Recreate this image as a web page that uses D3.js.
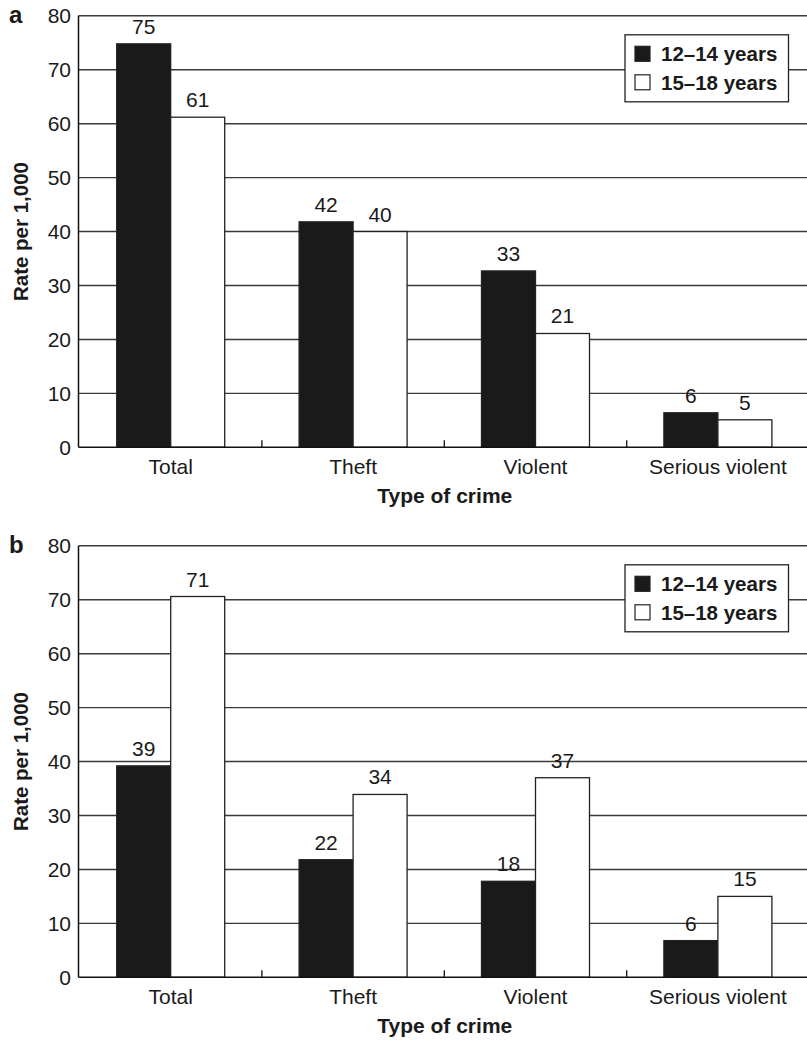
<!DOCTYPE html>
<html><head><meta charset="utf-8">
<script src="https://cdn.jsdelivr.net/npm/d3@7"></script>
<style>
html,body{margin:0;padding:0;background:#fff;}
text{font-family:"Liberation Sans",Arial,Helvetica,sans-serif;fill:#1a1a1a;}
</style></head>
<body>
<script>
const categories = ["Total", "Theft", "Violent", "Serious violent"];
const seriesNames = ["12–14 years", "15–18 years"];
const yTicks = [0, 10, 20, 30, 40, 50, 60, 70, 80];

const panelAYoung = [74.8, 41.8, 32.7, 6.4];
const panelAOld = [61.2, 40.0, 21.1, 5.1];
const panelAYoungLabels = [75, 42, 33, 6];
const panelAOldLabels = [61, 40, 21, 5];

const panelBYoung = [39.2, 21.8, 17.8, 6.8];
const panelBOld = [70.6, 33.9, 37.0, 15.0];
const panelBYoungLabels = [39, 22, 18, 6];
const panelBOldLabels = [71, 34, 37, 15];

const W = 807, H = 1040;
const svg = d3.select("body").append("svg").attr("width", W).attr("height", H);

const left = 78.5, plotH = 431.5;
const x0 = d3.scaleBand().domain(categories).range([79.5, 809.1]).padding(0);
const step = x0.bandwidth();
const x1 = d3.scaleBand().domain(seriesNames).range([step / 2 - 54, step / 2 + 54]).padding(0);
const fills = ["#1a1a1a", "#ffffff"];

function drawPanel(top, letter, young, old, youngLab, oldLab) {
  const y = d3.scaleLinear().domain([0, 80]).range([top + plotH, top]);
  const g = svg.append("g");

  // gridlines
  g.append("g").selectAll("line").data(yTicks.filter(t => t > 0)).join("line")
    .attr("x1", left).attr("x2", W)
    .attr("y1", d => y(d)).attr("y2", d => y(d))
    .attr("stroke", "#3a3a3a").attr("stroke-width", 1.4);

  // y tick labels
  g.append("g").selectAll("text").data(yTicks).join("text")
    .attr("x", 71).attr("y", d => y(d)).attr("dy", "0.36em")
    .attr("text-anchor", "end").attr("font-size", 21).text(d => d);

  // bars
  const rows = categories.map((c, i) => ({ c, vals: [young[i], old[i]], labs: [youngLab[i], oldLab[i]] }));
  const grp = g.append("g").selectAll("g").data(rows).join("g")
    .attr("transform", d => `translate(${x0(d.c)},0)`);
  grp.selectAll("rect").data(d => d.vals.map((v, k) => ({ v, k }))).join("rect")
    .attr("x", d => x1(seriesNames[d.k]))
    .attr("width", x1.bandwidth())
    .attr("y", d => y(d.v))
    .attr("height", d => y(0) - y(d.v))
    .attr("fill", d => fills[d.k])
    .attr("stroke", "#222").attr("stroke-width", 1.3);
  grp.selectAll("text").data(d => d.vals.map((v, k) => ({ v, k, lab: d.labs[k] }))).join("text")
    .attr("x", d => x1(seriesNames[d.k]) + x1.bandwidth() / 2)
    .attr("y", d => y(d.v) - 10)
    .attr("text-anchor", "middle").attr("font-size", 21)
    .text(d => d.lab);

  // x axis
  const xAxis = d3.axisBottom(x0).tickSize(0).tickPadding(0);
  const ax = g.append("g").attr("transform", `translate(0,${y(0)})`).call(xAxis);
  ax.select(".domain").remove();
  ax.selectAll("text").attr("font-size", 21).attr("dy", "1.25em")
    .style("font-family", '"Liberation Sans",Arial,sans-serif').attr("fill", "#1a1a1a");
  g.append("line").attr("x1", left).attr("x2", W).attr("y1", y(0)).attr("y2", y(0))
    .attr("stroke", "#111").attr("stroke-width", 1.5);
  // inner boundary ticks
  g.append("g").selectAll("line").data(categories.slice(1)).join("line")
    .attr("x1", d => x0(d)).attr("x2", d => x0(d))
    .attr("y1", y(0)).attr("y2", y(0) - 7)
    .attr("stroke", "#111").attr("stroke-width", 1.3);

  // y axis line
  g.append("line").attr("x1", left).attr("x2", left).attr("y1", top).attr("y2", y(0))
    .attr("stroke", "#111").attr("stroke-width", 1.5);

  // titles
  g.append("text").attr("x", (left + W) / 2 + 2).attr("y", y(0) + 56)
    .attr("text-anchor", "middle").attr("font-size", 21).attr("font-weight", "bold")
    .text("Type of crime");
  g.append("text").attr("transform", `translate(27.5,${(top + y(0)) / 2}) rotate(-90)`)
    .attr("text-anchor", "middle").attr("font-size", 20.5).attr("font-weight", "bold")
    .text("Rate per 1,000");
  g.append("text").attr("x", 9).attr("y", top + 7).attr("font-size", 24).attr("font-weight", "bold")
    .text(letter);

  // legend
  const lg = g.append("g").attr("transform", `translate(625,${top + 19})`);
  lg.append("rect").attr("width", 163.5).attr("height", 67).attr("fill", "#fff")
    .attr("stroke", "#222").attr("stroke-width", 1.3);
  seriesNames.forEach((s, k) => {
    lg.append("rect").attr("x", 10).attr("y", 11.5 + k * 28.5).attr("width", 15).attr("height", 15)
      .attr("fill", fills[k]).attr("stroke", "#222").attr("stroke-width", 1.2);
    lg.append("text").attr("x", 36).attr("y", 19 + k * 28.5).attr("dy", "0.36em")
      .attr("font-size", 20.5).attr("font-weight", "bold").text(s);
  });
}

drawPanel(15.8, "a", panelAYoung, panelAOld, panelAYoungLabels, panelAOldLabels);
drawPanel(545.8, "b", panelBYoung, panelBOld, panelBYoungLabels, panelBOldLabels);
</script>
</body></html>
